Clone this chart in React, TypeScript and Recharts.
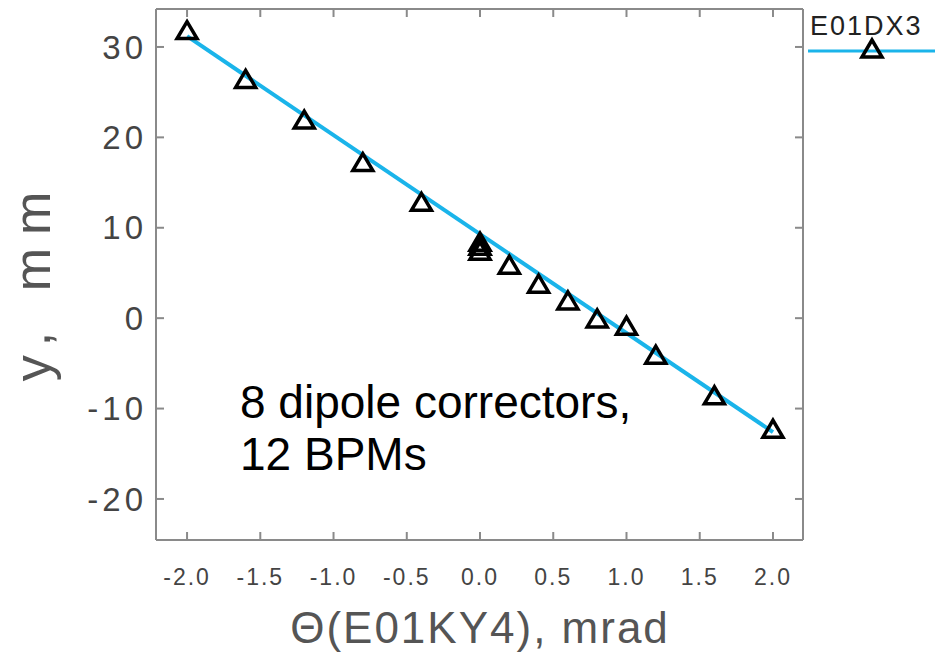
import { ScatterChart, Scatter, XAxis, YAxis } from "recharts";

// kick angle of E01KY4 (mrad) vs measured y (mm) at E01DX3
const thetaX = [-2.0, -1.6, -1.2, -0.8, -0.4, 0.0, 0.0, 0.0, 0.2, 0.4, 0.6, 0.8, 1.0, 1.2, 1.6, 2.0];
const posY = [31.7, 26.3, 21.8, 17.1, 12.7, 8.3, 7.85, 7.3, 5.75, 3.65, 1.8, -0.2, -1.0, -4.2, -8.7, -12.4];

// fitted line drawn through the points
const fitX = [-2.0, 2.0];
const fitY = [31.2, -12.6];

const xTicks = [-2.0, -1.5, -1.0, -0.5, 0.0, 0.5, 1.0, 1.5, 2.0];
const yTicks = [-20, -10, 0, 10, 20, 30];

const points = thetaX.map((x, i) => ({ x, y: posY[i] }));
const fit = fitX.map((x, i) => ({ x, y: fitY[i] }));

const BLUE = "#1ab4ea";
const FRAME = "#8a8a8a";
const TXT = "#444";
const FONT = "'Liberation Sans', Arial, sans-serif";

const Tri = (props: any) => {
  const { cx, cy } = props;
  if (cx == null || cy == null) return <g />;
  return (
    <path
      d={`M${cx},${cy - 10} L${cx - 10},${cy + 7} L${cx + 10},${cy + 7} Z`}
      fill="none"
      stroke="#000"
      strokeWidth={3.5}
      strokeLinejoin="miter"
    />
  );
};

export default function App() {
  const tickStyle = { fontSize: 23, fill: TXT, fontFamily: FONT, letterSpacing: 2 };
  return (
    <div style={{ position: "absolute", left: 0, top: 0, width: 948, height: 653, background: "#fff" }}>
      <ScatterChart width={948} height={653} margin={{ top: 0, right: 0, bottom: 0, left: 0 }}>
        <XAxis
          xAxisId="b"
          type="number"
          dataKey="x"
          orientation="bottom"
          height={113}
          domain={[-2.212, 2.205]}
          allowDataOverflow
          ticks={xTicks}
          tickFormatter={(v) => Number(v).toFixed(1)}
          tick={tickStyle}
          tickSize={-8}
          tickMargin={37}
          axisLine={{ stroke: FRAME, strokeWidth: 2 }}
          tickLine={{ stroke: FRAME, strokeWidth: 2 }}
        />
        <XAxis
          xAxisId="t"
          type="number"
          dataKey="x"
          orientation="top"
          height={9}
          domain={[-2.212, 2.205]}
          allowDataOverflow
          ticks={xTicks}
          tickFormatter={() => ""}
          tickSize={-8}
          axisLine={{ stroke: FRAME, strokeWidth: 2 }}
          tickLine={{ stroke: FRAME, strokeWidth: 2 }}
        />
        <YAxis
          yAxisId="l"
          type="number"
          dataKey="y"
          orientation="left"
          width={156}
          domain={[-24.54, 34.2]}
          allowDataOverflow
          ticks={yTicks}
          tick={{ fontSize: 33, fill: TXT, fontFamily: FONT, letterSpacing: 4 }}
          tickSize={-8}
          tickMargin={17}
          axisLine={{ stroke: FRAME, strokeWidth: 2 }}
          tickLine={{ stroke: FRAME, strokeWidth: 2 }}
        />
        <YAxis
          yAxisId="r"
          type="number"
          dataKey="y"
          orientation="right"
          width={145}
          domain={[-24.54, 34.2]}
          allowDataOverflow
          ticks={yTicks}
          tickFormatter={() => ""}
          tickSize={-8}
          axisLine={{ stroke: FRAME, strokeWidth: 2 }}
          tickLine={{ stroke: FRAME, strokeWidth: 2 }}
        />
        <Scatter
          data={fit}
          xAxisId="b"
          yAxisId="l"
          line={{ stroke: BLUE, strokeWidth: 4 }}
          shape={() => <g />}
          isAnimationActive={false}
        />
        <Scatter data={points} xAxisId="b" yAxisId="l" shape={Tri} isAnimationActive={false} />
      </ScatterChart>

      <svg
        width={948}
        height={653}
        style={{ position: "absolute", left: 0, top: 0, pointerEvents: "none" }}
      >
        <text
          x={0}
          y={0}
          transform="translate(50,280) rotate(-90)"
          textAnchor="middle"
          fontSize={52}
          fill="#555"
          fontFamily={FONT}
          letterSpacing={13}
        >
          y, mm
        </text>
        <text x={480} y={643} textAnchor="middle" fontSize={44} fill="#555" fontFamily={FONT} letterSpacing={2}>
          Θ(E01KY4),  mrad
        </text>
        <text x={240} y={418} fontSize={46} fill="#000" fontFamily={FONT}>
          8 dipole correctors,
        </text>
        <text x={240} y={470} fontSize={46} fill="#000" fontFamily={FONT}>
          12 BPMs
        </text>
        {/* legend */}
        <text x={810} y={35} fontSize={27} fill="#222" fontFamily={FONT} letterSpacing={2}>
          E01DX3
        </text>
        <line x1={808} y1={51} x2={935} y2={51} stroke={BLUE} strokeWidth={3} />
        <Tri cx={872} cy={50} />
      </svg>
    </div>
  );
}
